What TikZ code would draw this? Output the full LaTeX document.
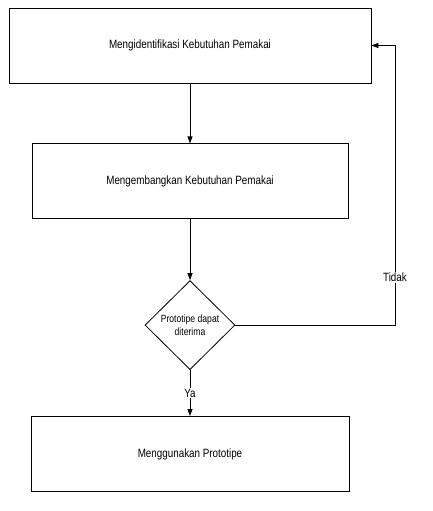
\documentclass[tikz,border=0pt]{standalone}
\usepackage{fontspec}
\setmainfont{Liberation Sans}[FakeStretch=0.82]
\usetikzlibrary{positioning,shapes.geometric,arrows.meta}

\begin{document}
\begin{tikzpicture}[x=1pt, y=1pt, node distance=60pt,
  arrow/.style={-{Triangle[length=7pt,width=5pt]}, line width=0.8pt},
  proses/.style={draw, line width=0.8pt, minimum width=316pt, minimum height=75pt, font=\fontsize{12}{14}\selectfont},
  putusan/.style={draw, diamond, line width=0.8pt, minimum width=90pt, minimum height=89pt, inner sep=0pt, align=center, font=\fontsize{10.5}{12.5}\selectfont},
  label/.style={fill=white, inner sep=1pt, font=\fontsize{12}{14}\selectfont}]

\useasboundingbox (0,0) rectangle (432,-511);

%kotak proses
\node (identifikasi) [proses, minimum width=362pt] at (190,-45.5) {Mengidentifikasi Kebutuhan Pemakai};
\node (kembangkan) [proses, below=60pt of identifikasi] {Mengembangkan Kebutuhan Pemakai};
\node (keputusan) [putusan, below=61pt of kembangkan] {Prototipe dapat\\diterima};
\node (gunakan) [proses, minimum width=318pt, below=46pt of keputusan] {Menggunakan Prototipe};

%titik belok untuk jalur kembali
\coordinate (pojok2) at (395,-45.5);
\coordinate (pojok1) at (keputusan.east -| pojok2);

%strelice
\draw[arrow] (identifikasi) -- (kembangkan);
\draw[arrow] (kembangkan) -- (keputusan);
\draw[arrow] (keputusan) -- node[label] {Ya} (gunakan);
\draw[arrow] (keputusan.east) -- (pojok1) -- node[label, pos=0.17] {Tidak} (pojok2) -- (identifikasi.east);

\end{tikzpicture}
\end{document}
